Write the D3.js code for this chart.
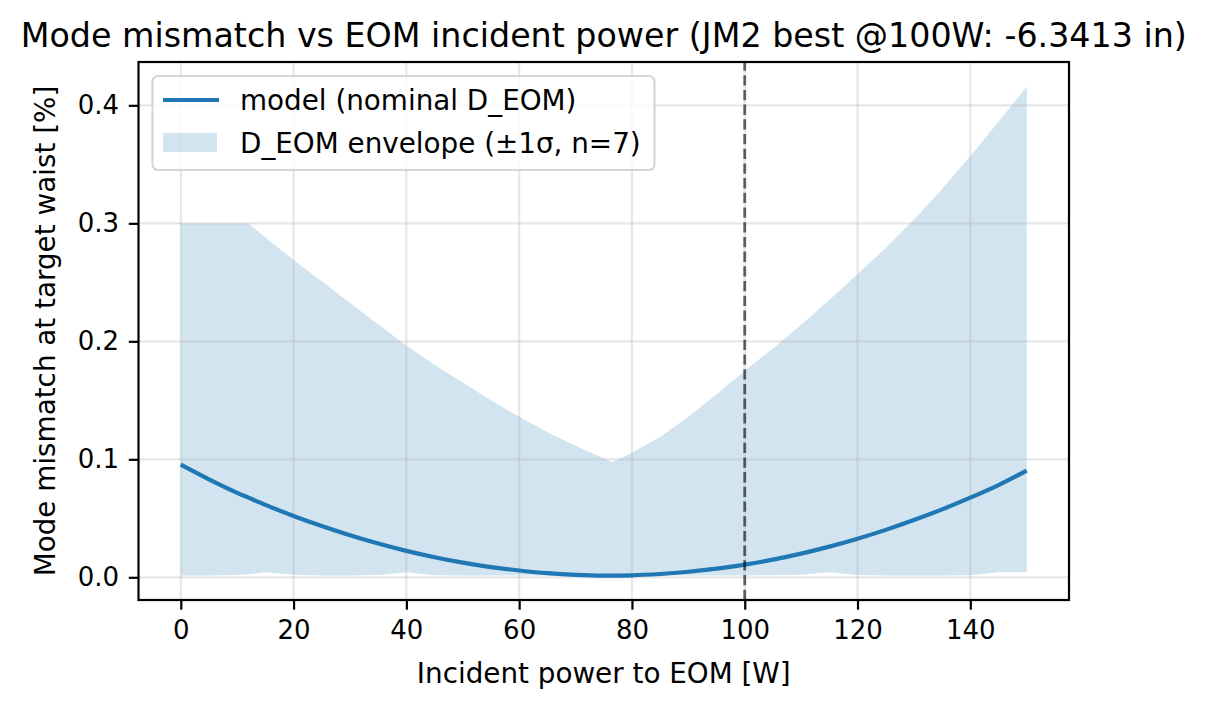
<!DOCTYPE html>
<head>
  <meta charset="utf-8" />
  <script src="https://d3js.org/d3.v7.min.js"></script>
  <style>
    body { margin: 0; background: white; }
    text { font-family: "DejaVu Sans", sans-serif; fill: black; }
  </style>
</head>
<body>
  <div id="chart"></div>
  <script>
    // donnees
    const powerW = [0, 5, 10, 12, 15, 20, 25, 30, 35, 40, 45, 50, 55, 60, 65, 70, 75, 76.5,
                    80, 85, 90, 95, 100, 105, 110, 115, 120, 125, 130, 135, 140, 145, 150];
    const nominal = [0.0955, 0.083, 0.0716, 0.0675, 0.0614, 0.052, 0.0434, 0.0356, 0.0286, 0.0224,
                     0.017, 0.0124, 0.0086, 0.0058, 0.0035, 0.0021, 0.0015, 0.0015, 0.0017, 0.0028,
                     0.0047, 0.0073, 0.0108, 0.015, 0.0201, 0.026, 0.0327, 0.0402, 0.0485, 0.0576,
                     0.0675, 0.0782, 0.0905];
    const envUpper = [0.300, 0.300, 0.300, 0.300, 0.288, 0.269, 0.251, 0.2325, 0.2145, 0.1965,
                      0.180, 0.165, 0.150, 0.136, 0.123, 0.1115, 0.101, 0.0976, 0.1055, 0.119,
                      0.136, 0.155, 0.175, 0.194, 0.214, 0.235, 0.257, 0.279, 0.303, 0.329,
                      0.357, 0.386, 0.416];
    const envLower = [0.0015, 0.0015, 0.002, 0.0025, 0.0042, 0.0022, 0.0015, 0.0015, 0.002, 0.0042,
                      0.0018, 0.0015, 0.0015, 0.0015, 0.0015, 0.0015, 0.0015, 0.0015, 0.0015, 0.0015,
                      0.0015, 0.0015, 0.0015, 0.0018, 0.0022, 0.0042, 0.002, 0.0015, 0.0015, 0.0015,
                      0.0018, 0.0042, 0.0042];
    const xTicks = [0, 20, 40, 60, 80, 100, 120, 140];
    const yTicks = [0.0, 0.1, 0.2, 0.3, 0.4];
    const refPower = 100;
    const legendLabels = ["model (nominal D_EOM)", "D_EOM envelope (\u00b11\u03c3, n=7)"];

    const width = 1208, height = 708;
    const margin = { top: 62, right: 139, bottom: 108, left: 138.5 };
    const fs = 27.8;
    const tickFs = 26;
    const blue = "#1f77b4";

    const svg = d3.select("#chart").append("svg")
      .attr("width", width).attr("height", height);

    const data = powerW.map((p, i) => ({ p: p, m: nominal[i], lo: envLower[i], hi: envUpper[i] }));

    // echelles avec la marge de 5% a la matplotlib
    const xr = d3.extent(powerW);
    const xpad = (xr[1] - xr[0]) * 0.05;
    const x = d3.scaleLinear().domain([xr[0] - xpad, xr[1] + xpad])
      .range([margin.left, width - margin.right]);
    const ymin = d3.min(envLower), ymax = d3.max(envUpper);
    const ypad = (ymax - ymin) * 0.05;
    const y = d3.scaleLinear().domain([ymin - ypad, ymax + ypad])
      .range([height - margin.bottom, margin.top]);

    const x0 = margin.left, x1 = width - margin.right;
    const y0 = height - margin.bottom, y1 = margin.top;

    // enveloppe
    svg.append("path")
      .datum(data)
      .attr("fill", blue)
      .attr("fill-opacity", 0.2)
      .attr("d", d3.area().x(d => x(d.p)).y0(d => y(d.lo)).y1(d => y(d.hi)));

    // grille
    const grid = svg.append("g").attr("stroke", "#b0b0b0").attr("stroke-opacity", 0.3).attr("stroke-width", 2.2);
    grid.selectAll(".gx").data(xTicks).join("line")
      .attr("x1", d => x(d)).attr("x2", d => x(d)).attr("y1", y0).attr("y2", y1);
    grid.selectAll(".gy").data(yTicks).join("line")
      .attr("y1", d => y(d)).attr("y2", d => y(d)).attr("x1", x0).attr("x2", x1);

    // courbe nominale
    svg.append("path")
      .datum(data)
      .attr("fill", "none")
      .attr("stroke", blue)
      .attr("stroke-width", 4.2)
      .attr("d", d3.line().x(d => x(d.p)).y(d => y(d.m)).curve(d3.curveMonotoneX));

    // ligne verticale 100 W
    svg.append("line")
      .attr("x1", x(refPower)).attr("x2", x(refPower)).attr("y1", y0).attr("y2", y1)
      .attr("stroke", "black").attr("stroke-opacity", 0.6)
      .attr("stroke-width", 2.8).attr("stroke-dasharray", "10.3,4.4");

    // axes
    const xAxis = d3.axisBottom(x).tickValues(xTicks).tickSize(9.7).tickPadding(11).tickFormat(d3.format("d"));
    const yAxis = d3.axisLeft(y).tickValues(yTicks).tickSize(9.7).tickPadding(9.7).tickFormat(d3.format(".1f"));

    const gx = svg.append("g").attr("transform", "translate(0," + y0 + ")").call(xAxis);
    const gy = svg.append("g").attr("transform", "translate(" + x0 + ",0)").call(yAxis);
    [gx, gy].forEach(g => {
      g.select(".domain").remove();
      g.selectAll(".tick line").attr("stroke", "black").attr("stroke-width", 2.2);
      g.selectAll(".tick text").style("font-size", tickFs + "px").style("font-family", "DejaVu Sans");
    });

    // cadre
    svg.append("rect")
      .attr("x", x0).attr("y", y1).attr("width", x1 - x0).attr("height", y0 - y1)
      .attr("fill", "none").attr("stroke", "black").attr("stroke-width", 2.2);

    // titres
    svg.append("text")
      .attr("x", (x0 + x1) / 2).attr("y", 47)
      .attr("text-anchor", "middle")
      .style("font-size", "33.3px")
      .text("Mode mismatch vs EOM incident power (JM2 best @100W: -6.3413 in)");

    svg.append("text")
      .attr("x", (x0 + x1) / 2).attr("y", 683)
      .attr("text-anchor", "middle")
      .style("font-size", fs + "px")
      .text("Incident power to EOM [W]");

    svg.append("text")
      .attr("transform", "translate(55," + (y0 + y1) / 2 + ") rotate(-90)")
      .attr("text-anchor", "middle")
      .style("font-size", fs + "px")
      .text("Mode mismatch at target waist [%]");

    // legende
    const lg = svg.append("g");
    lg.append("rect")
      .attr("x", 152.5).attr("y", 76).attr("width", 502).attr("height", 94)
      .attr("rx", 5.5).attr("ry", 5.5)
      .attr("fill", "white").attr("fill-opacity", 0.8)
      .attr("stroke", "#cccccc").attr("stroke-opacity", 0.8).attr("stroke-width", 2.2);
    lg.append("line")
      .attr("x1", 163).attr("x2", 219).attr("y1", 100).attr("y2", 100)
      .attr("stroke", blue).attr("stroke-width", 4.2);
    lg.append("rect")
      .attr("x", 163).attr("y", 133).attr("width", 54).attr("height", 19)
      .attr("fill", blue).attr("fill-opacity", 0.2);
    lg.selectAll(".lt").data(legendLabels).join("text")
      .attr("x", 240).attr("y", (d, i) => 110 + i * 43)
      .style("font-size", fs + "px")
      .text(d => d);
  </script>
</body>
